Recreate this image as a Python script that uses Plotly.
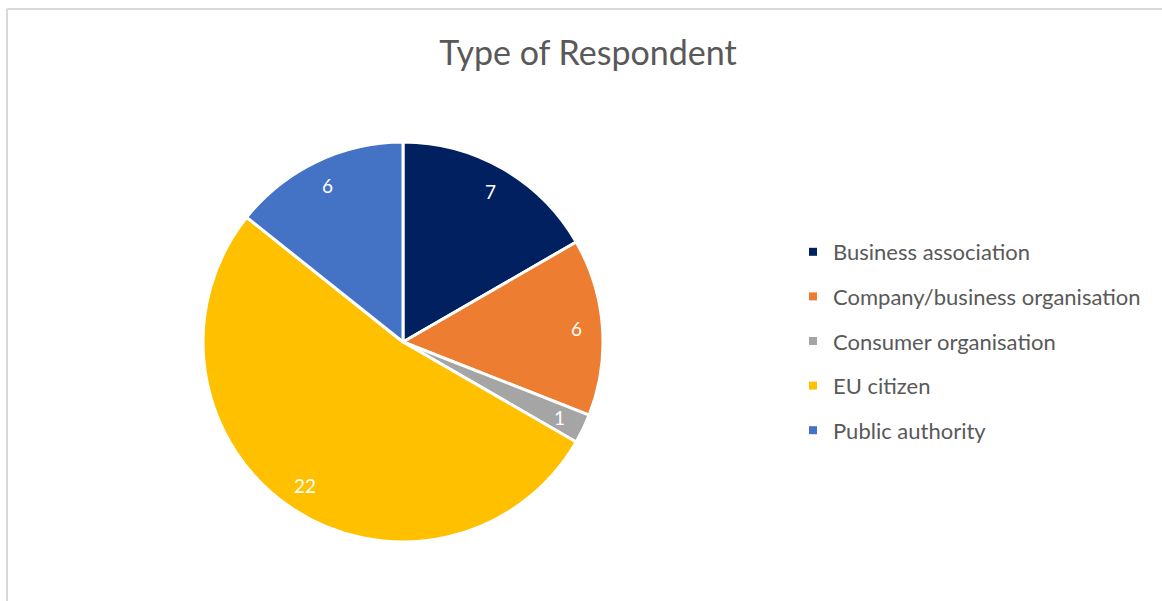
import numpy as np
import plotly.graph_objects as go

# Respondent categories and counts
categories = ["Business association", "Company/business organisation",
              "Consumer organisation", "EU citizen", "Public authority"]
counts = [7, 6, 1, 22, 6]
colors = ["#002060", "#ED7D31", "#A5A5A5", "#FFC000", "#4472C4"]

W, H = 1162, 601
# pie placement in pixels
cx, cy, R = 403, 342, 200

fig = go.Figure()
fig.add_trace(go.Pie(
    labels=categories, values=counts, sort=False, direction="clockwise",
    rotation=0, marker=dict(colors=colors, line=dict(color="white", width=3)),
    textinfo="none", hoverinfo="label+value", showlegend=False,
    domain=dict(x=[(cx - R) / W, (cx + R) / W],
                y=[(H - cy - R) / H, (H - cy + R) / H]),
))

# value labels near the outer edge of each slice
vals = np.array(counts, dtype=float)
ends = np.cumsum(vals) / vals.sum() * 2 * np.pi
starts = ends - vals / vals.sum() * 2 * np.pi
mids = (starts + ends) / 2
r_lab = 0.87 * R
for v, a in zip(counts, mids):
    px = cx + r_lab * np.sin(a)
    py = cy - r_lab * np.cos(a)
    fig.add_annotation(x=px / W, y=1 - py / H, xref="paper", yref="paper",
                       xanchor="center", yanchor="middle",
                       text=str(v), showarrow=False,
                       font=dict(color="white", size=19, family="Lato"))

# legend entries with square swatches
for i, (name, col) in enumerate(zip(categories, colors)):
    fig.add_trace(go.Scatter(
        x=[None], y=[None], mode="markers", name=name,
        legendgroup=f"g{i}",
        marker=dict(symbol="square", size=8, color=col),
    ))

fig.update_layout(
    width=W, height=H, margin=dict(l=0, r=0, t=0, b=0),
    paper_bgcolor="white", plot_bgcolor="white",
    xaxis=dict(visible=False), yaxis=dict(visible=False),
    title=dict(text="Type of Respondent", x=588 / W, y=1 - 53 / H,
               xanchor="center", yanchor="middle",
               font=dict(size=34, color="#595959", family="Lato")),
    legend=dict(x=793 / W, y=1 - 231 / H, xanchor="left", yanchor="top",
                font=dict(size=22, color="#595959", family="Lato"),
                tracegroupgap=13, itemclick=False),
    shapes=[
        dict(type="line", xref="paper", yref="paper",
             x0=7 / W, x1=7 / W, y0=0, y1=1 - 9 / H,
             line=dict(color="#d9d9d9", width=2)),
        dict(type="line", xref="paper", yref="paper",
             x0=7 / W, x1=1, y0=1 - 9 / H, y1=1 - 9 / H,
             line=dict(color="#d9d9d9", width=2)),
    ],
)

fig.write_html("out.html")
